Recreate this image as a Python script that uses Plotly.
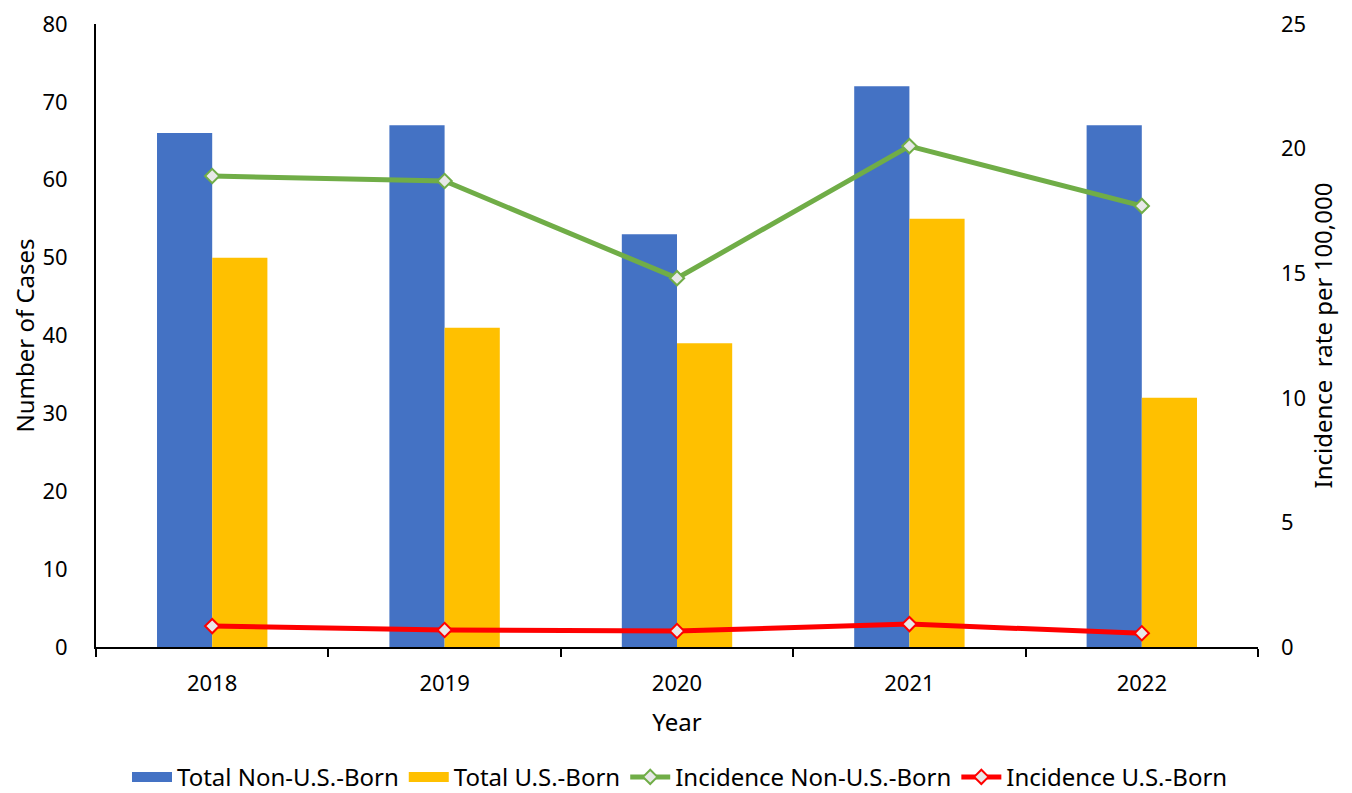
import plotly.graph_objects as go

years = ["2018", "2019", "2020", "2021", "2022"]
total_non_us = [66, 67, 53, 72, 67]
total_us = [50, 41, 39, 55, 32]
inc_non_us = [18.9, 18.7, 14.8, 20.1, 17.7]
inc_us = [0.84, 0.68, 0.64, 0.92, 0.55]

BLUE, GOLD, GREEN, RED = "#4472C4", "#FFC000", "#70AD47", "#FF0000"
FONT = "Noto Sans"

fig = go.Figure()
fig.add_trace(go.Bar(x=years, y=total_non_us, name="Total Non-U.S.-Born",
                     marker_color=BLUE, marker_line_width=0, showlegend=False,
                     legendgroup="a"))
fig.add_trace(go.Bar(x=years, y=total_us, name="Total U.S.-Born",
                     marker_color=GOLD, marker_line_width=0, showlegend=False,
                     legendgroup="b"))
# legend swatches (wide rectangles like the original)
fig.add_trace(go.Scatter(x=[None], y=[None], mode="lines", name="Total Non-U.S.-Born",
                         line=dict(color=BLUE, width=15), legendgroup="a"))
fig.add_trace(go.Scatter(x=[None], y=[None], mode="lines", name="Total U.S.-Born",
                         line=dict(color=GOLD, width=15), legendgroup="b"))
fig.add_trace(go.Scatter(x=years, y=inc_non_us, name="Incidence Non-U.S.-Born",
                         yaxis="y2", mode="lines+markers",
                         line=dict(color=GREEN, width=5),
                         marker=dict(symbol="diamond", size=11, color="#E8E8E8",
                                     line=dict(color=GREEN, width=2))))
fig.add_trace(go.Scatter(x=years, y=inc_us, name="Incidence U.S.-Born",
                         yaxis="y2", mode="lines+markers",
                         line=dict(color=RED, width=5),
                         marker=dict(symbol="diamond", size=11, color="#E8E8E8",
                                     line=dict(color=RED, width=2))))

fig.update_layout(
    width=1344, height=785,
    margin=dict(l=88, r=94, t=16, b=146),
    paper_bgcolor="white", plot_bgcolor="white",
    font=dict(family=FONT, size=22, color="#000000"),
    barmode="group", bargap=0.525, bargroupgap=0,
    showlegend=True,
    legend=dict(orientation="h", xref="container", yref="container",
                x=0.5, xanchor="center", y=0.02, yanchor="middle",
                font=dict(size=24), itemwidth=40, tracegroupgap=0,
                traceorder="normal"),
    xaxis=dict(type="category", showline=True, linecolor="#000000", linewidth=2,
               ticks="outside", tickson="boundaries", ticklen=8, tickcolor="#000000",
               tickwidth=1.5, showgrid=False, zeroline=False,
               tickfont=dict(size=22), ticklabelstandoff=16,
               title=dict(text="Year", standoff=18, font=dict(size=24)),
               automargin=False),
    yaxis=dict(range=[0, 80], dtick=10, showline=True, linecolor="#000000", linewidth=2,
               ticks="", showgrid=False, zeroline=False, ticklabeloverflow="allow",
               tickfont=dict(size=22), ticklabelstandoff=22,
               title=dict(text="Number of Cases", standoff=10, font=dict(size=24)),
               automargin=False),
    yaxis2=dict(range=[0, 25], dtick=5, overlaying="y", side="right",
                showline=False, ticks="", showgrid=False, zeroline=False,
                ticklabeloverflow="allow",
                tickfont=dict(size=22), ticklabelstandoff=22,
                title=dict(text="Incidence  rate per 100,000", standoff=4,
                           font=dict(size=24)),
                automargin=False),
)

fig.write_html("out.html")
